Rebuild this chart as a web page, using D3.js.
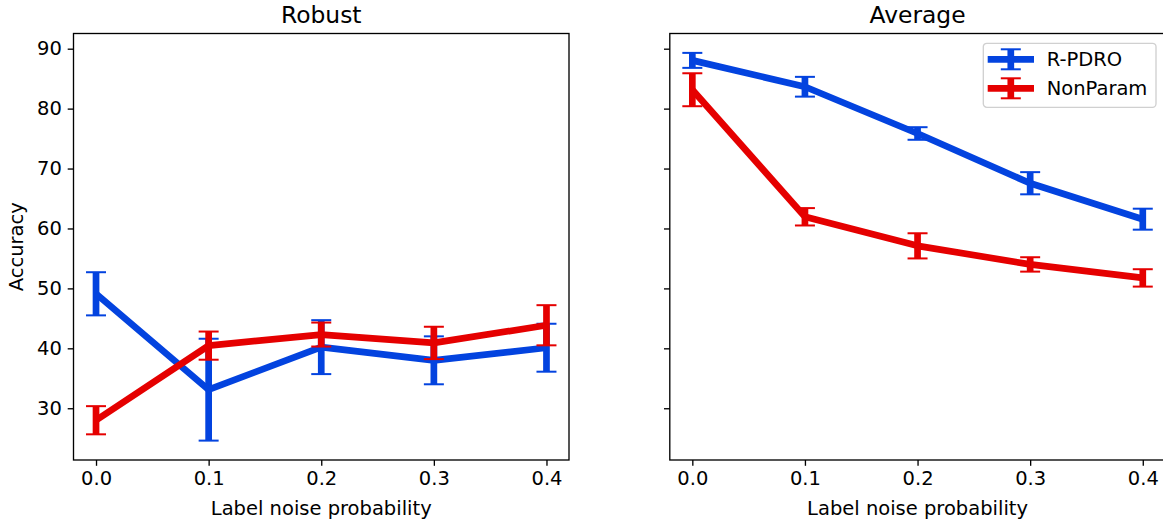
<!DOCTYPE html>
<html>
<head>
<meta charset="utf-8">
<script src="https://cdn.jsdelivr.net/npm/d3@7"></script>
<style>
  body { margin: 0; background: #fff; }
  svg { font-family: "DejaVu Sans", sans-serif; }
</style>
</head>
<body>
<svg id="chart" width="1163" height="521"></svg>
<script>
// data
const noise = [0.0, 0.1, 0.2, 0.3, 0.4];
const xTicks = [0.0, 0.1, 0.2, 0.3, 0.4];
const yTicks = [30, 40, 50, 60, 70, 80, 90];
const panelTitles = ["Robust", "Average"];
const seriesNames = ["R-PDRO", "NonParam"];
const seriesColors = ["#0343df", "#e50000"];

const robustPDRO = [49.1, 33.1, 40.2, 38.0, 40.1];
const robustPDROErr = [3.6, 8.5, 4.5, 4.0, 4.0];
const robustNonParam = [28.0, 40.45, 42.3, 40.9, 43.85];
const robustNonParamErr = [2.35, 2.35, 2.0, 2.7, 3.35];

const averagePDRO = [88.05, 83.65, 75.85, 67.55, 61.55];
const averagePDROErr = [1.25, 1.65, 1.05, 1.85, 1.75];
const averageNonParam = [83.15, 61.95, 57.1, 54.0, 51.75];
const averageNonParamErr = [2.75, 1.45, 2.1, 1.2, 1.45];

const panels = [
  { title: panelTitles[0], series: [
      { name: seriesNames[0], color: seriesColors[0], values: robustPDRO, err: robustPDROErr },
      { name: seriesNames[1], color: seriesColors[1], values: robustNonParam, err: robustNonParamErr }] },
  { title: panelTitles[1], series: [
      { name: seriesNames[0], color: seriesColors[0], values: averagePDRO, err: averagePDROErr },
      { name: seriesNames[1], color: seriesColors[1], values: averageNonParam, err: averageNonParamErr }] }
];

const svg = d3.select("#chart");
const axTop = 33.5, axBottom = 460;
const axW = 495.5;
const lefts = [73.5, 669.8];

// shared y domain, matplotlib style 5% margins
let lo = Infinity, hi = -Infinity;
panels.forEach(p => p.series.forEach(s => s.values.forEach((v, i) => {
  lo = Math.min(lo, v - s.err[i]);
  hi = Math.max(hi, v + s.err[i]);
})));
const yPad = (hi - lo) * 0.05;
const y = d3.scaleLinear().domain([lo - yPad, hi + yPad]).range([axBottom, axTop]);

const xPad = (d3.max(noise) - d3.min(noise)) * 0.05;

const lineW = 6.7, barW = 6.7, capHalf = 10, capW = 2;
const tickFont = "19.5px";

panels.forEach((p, pi) => {
  const x0 = lefts[pi];
  const x = d3.scaleLinear()
    .domain([d3.min(noise) - xPad, d3.max(noise) + xPad])
    .range([x0, x0 + axW]);
  const g = svg.append("g");

  // series
  p.series.forEach(s => {
    const pts = noise.map((n, i) => ({ n, v: s.values[i], e: s.err[i] }));
    g.append("g").selectAll("line")
      .data(pts).join("line")
      .attr("x1", d => x(d.n)).attr("x2", d => x(d.n))
      .attr("y1", d => y(d.v - d.e)).attr("y2", d => y(d.v + d.e))
      .attr("stroke", s.color).attr("stroke-width", barW);
    const caps = pts.flatMap(d => [d.v - d.e, d.v + d.e].map(c => ({ n: d.n, c })));
    g.append("g").selectAll("line")
      .data(caps).join("line")
      .attr("x1", d => x(d.n) - capHalf).attr("x2", d => x(d.n) + capHalf)
      .attr("y1", d => y(d.c)).attr("y2", d => y(d.c))
      .attr("stroke", s.color).attr("stroke-width", capW);
    g.append("path")
      .datum(pts)
      .attr("fill", "none")
      .attr("stroke", s.color)
      .attr("stroke-width", lineW)
      .attr("stroke-linejoin", "round")
      .attr("d", d3.line().x(d => x(d.n)).y(d => y(d.v)));
  });

  // axes
  const xAxis = d3.axisBottom(x).tickValues(xTicks).tickFormat(d3.format(".1f"))
    .tickSizeOuter(0).tickSize(5.8).tickPadding(5.8);
  const gx = g.append("g").attr("transform", `translate(0,${axBottom})`).call(xAxis);
  const yAxis = d3.axisLeft(y).tickValues(yTicks).tickSizeOuter(0).tickSize(5.8).tickPadding(5.8);
  if (pi === 1) yAxis.tickFormat("");
  const gy = g.append("g").attr("transform", `translate(${x0},0)`).call(yAxis);
  [gx, gy].forEach(a => {
    a.select(".domain").remove();
    a.selectAll(".tick line").attr("stroke", "#000").attr("stroke-width", 1.33);
    a.selectAll(".tick text").attr("fill", "#000").style("font-size", tickFont)
      .style("font-family", "DejaVu Sans");
  });

  // frame
  g.append("rect")
    .attr("x", x0).attr("y", axTop).attr("width", axW).attr("height", axBottom - axTop)
    .attr("fill", "none").attr("stroke", "#000").attr("stroke-width", 1.33);

  // title + x label
  g.append("text")
    .attr("x", x0 + axW / 2).attr("y", 22.5)
    .attr("text-anchor", "middle").style("font-size", "23.4px")
    .text(p.title);
  g.append("text")
    .attr("x", x0 + axW / 2).attr("y", 514.5)
    .attr("text-anchor", "middle").style("font-size", tickFont)
    .text("Label noise probability");

  if (pi === 0) {
    g.append("text")
      .attr("transform", `translate(22.5,${(axTop + axBottom) / 2}) rotate(-90)`)
      .attr("text-anchor", "middle").style("font-size", tickFont)
      .text("Accuracy");
  }

  if (pi === 1) {
    const lx = x0 + axW - 182, ly = axTop + 9.8;
    const lg = g.append("g").attr("transform", `translate(${lx},${ly})`);
    lg.append("rect")
      .attr("width", 172.7).attr("height", 64).attr("rx", 3.5)
      .attr("fill", "#fff").attr("fill-opacity", 0.8)
      .attr("stroke", "#d0d0d0").attr("stroke-width", 1.33);
    p.series.forEach((s, si) => {
      const cy = 16 + si * 29;
      lg.append("line").attr("x1", 4.4).attr("x2", 50.7).attr("y1", cy).attr("y2", cy)
        .attr("stroke", s.color).attr("stroke-width", lineW);
      lg.append("line").attr("x1", 27.5).attr("x2", 27.5).attr("y1", cy - 10).attr("y2", cy + 10)
        .attr("stroke", s.color).attr("stroke-width", barW);
      [cy - 10, cy + 10].forEach(c => lg.append("line")
        .attr("x1", 17.5).attr("x2", 37.5).attr("y1", c).attr("y2", c)
        .attr("stroke", s.color).attr("stroke-width", capW));
      lg.append("text").attr("x", 63.4).attr("y", cy + 7)
        .style("font-size", tickFont).text(s.name);
    });
  }
});
</script>
</body>
</html>
